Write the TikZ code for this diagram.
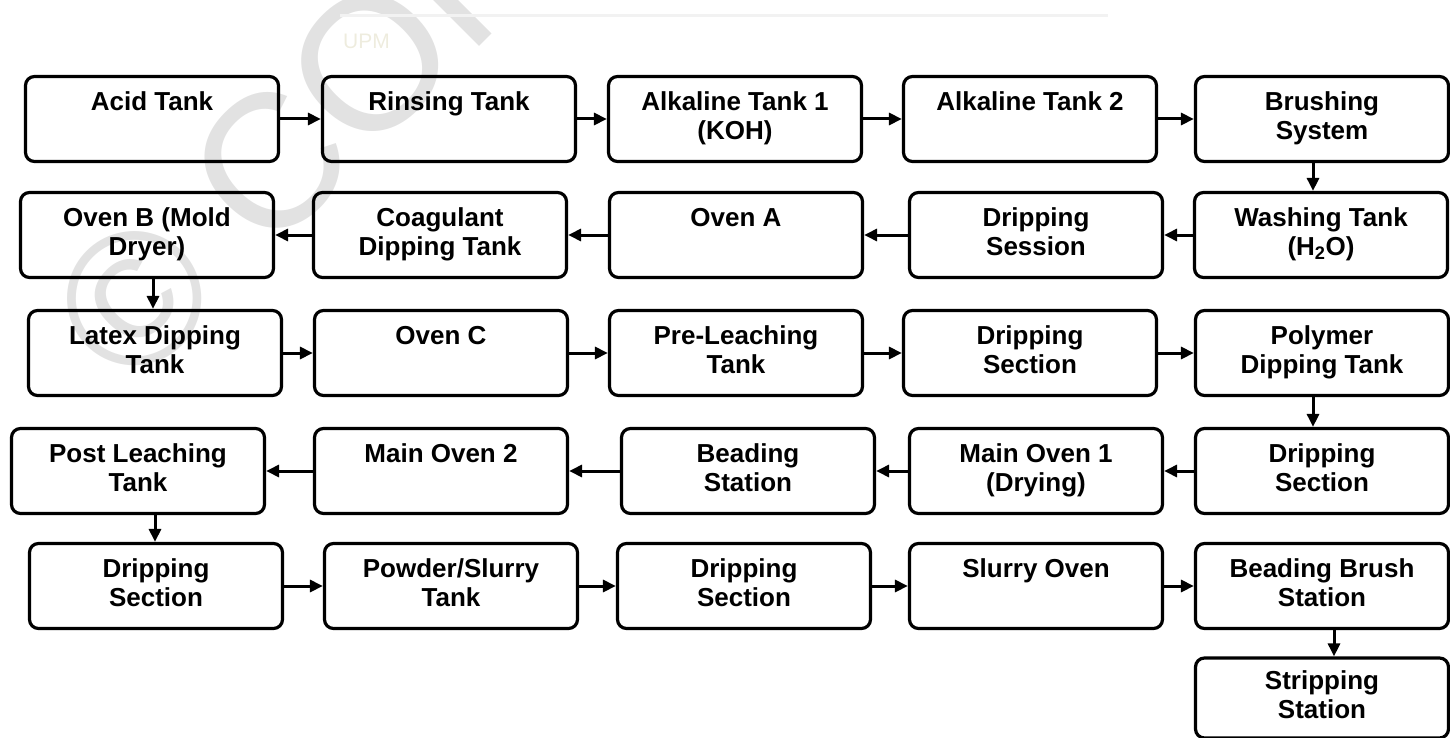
\documentclass[tikz,border=0pt]{standalone}
\usepackage{fontspec}
\setmainfont{Liberation Sans}
\usepackage{tikz}
\usetikzlibrary{arrows.meta, positioning, calc}
\definecolor{wmgray}{RGB}{226,226,226}
\definecolor{upmtint}{RGB}{238,236,222}
\definecolor{rulegray}{RGB}{242,242,242}
\newcommand{\stagelines}[2]{\strut #1\\\strut #2}
\tikzset{
  stage/.style={rectangle, draw=black, minimum width=253pt,
    minimum height=85pt, align=center, inner sep=0pt,
    font=\fontsize{26}{29}\selectfont\bfseries,
    rounded corners=9pt, line width=3.2pt},
  flow/.style={-{Triangle[length=13pt,width=12pt]}, line width=3pt, color=black}
}

\begin{document}
\begin{tikzpicture}[x=1pt, y=-1pt]
  \useasboundingbox (0,0) rectangle (1450,738);

  % Watermark
  \begin{scope}
    \clip (0,0) rectangle (1450,738);
    \node[anchor=base west, rotate=45, inner sep=0pt, color=wmgray,
      font=\fontsize{190}{200}\selectfont] (wm) at (131,395) {\char"00A9\ COPYRIGHT};
  \end{scope}
  \draw[color=rulegray, line width=3pt] (340,16) -- (1108,16);
  \node[color=upmtint, font=\fontsize{21}{21}\selectfont, anchor=west, inner sep=0pt] (upm) at (343,41) {UPM};

  % Row 1
  \node[stage] (acid)  at (152,119)  {\stagelines{Acid Tank}{}};
  \node[stage] (rinse) at (449,119)  {\stagelines{Rinsing Tank}{}};
  \node[stage] (alka)  at (735,119)  {\stagelines{Alkaline Tank 1}{(KOH)}};
  \node[stage] (alkb)  at (1030,119) {\stagelines{Alkaline Tank 2}{}};
  \node[stage] (brush) at (1322,119) {\stagelines{Brushing}{System}};

  % Row 2
  \node[stage] (ovenb) at (147,235)  {\stagelines{Oven B (Mold}{Dryer)}};
  \node[stage] (coag)  at (440,235)  {\stagelines{Coagulant}{Dipping Tank}};
  \node[stage] (ovena) at (736,235)  {\stagelines{Oven A}{}};
  \node[stage] (drips) at (1036,235) {\stagelines{Dripping}{Session}};
  \node[stage] (wash)  at (1321,235) {\stagelines{Washing Tank}{(H\textsubscript{2}O)}};

  % Row 3
  \node[stage] (latex) at (155,353)  {\stagelines{Latex Dipping}{Tank}};
  \node[stage] (ovenc) at (441,353)  {\stagelines{Oven C}{}};
  \node[stage] (prel)  at (736,353)  {\stagelines{Pre-Leaching}{Tank}};
  \node[stage] (dripc) at (1030,353) {\stagelines{Dripping}{Section}};
  \node[stage] (poly)  at (1322,353) {\stagelines{Polymer}{Dipping Tank}};

  % Row 4
  \node[stage] (postl) at (138,471)  {\stagelines{Post Leaching}{Tank}};
  \node[stage] (mainb) at (441,471)  {\stagelines{Main Oven 2}{}};
  \node[stage] (bead)  at (748,471)  {\stagelines{Beading}{Station}};
  \node[stage] (maina) at (1036,471) {\stagelines{Main Oven 1}{(Drying)}};
  \node[stage] (dripd) at (1322,471) {\stagelines{Dripping}{Section}};

  % Row 5
  \node[stage] (dripe) at (156,586)  {\stagelines{Dripping}{Section}};
  \node[stage] (powd)  at (451,586)  {\stagelines{Powder/Slurry}{Tank}};
  \node[stage] (dripf) at (744,586)  {\stagelines{Dripping}{Section}};
  \node[stage] (slurry) at (1036,586) {\stagelines{Slurry Oven}{}};
  \node[stage] (bbrush) at (1322,586) {\stagelines{Beading Brush}{Station}};

  % Row 6
  \node[stage, minimum height=80pt] (strip) at (1322,698) {\stagelines{Stripping}{Station}};

  % Flow, row 1
  \draw[flow] (acid) -- (rinse);
  \draw[flow] (rinse) -- (alka);
  \draw[flow] (alka) -- (alkb);
  \draw[flow] (alkb) -- (brush);
  \draw[flow] ([xshift=-9pt]brush.south) -- ([xshift=-8pt]wash.north);

  % Flow, row 2
  \draw[flow] (wash) -- (drips);
  \draw[flow] (drips) -- (ovena);
  \draw[flow] (ovena) -- (coag);
  \draw[flow] (coag) -- (ovenb);
  \draw[flow] ([xshift=6pt]ovenb.south) -- ([xshift=-2pt]latex.north);

  % Flow, row 3
  \draw[flow] (latex) -- (ovenc);
  \draw[flow] (ovenc) -- (prel);
  \draw[flow] (prel) -- (dripc);
  \draw[flow] (dripc) -- (poly);
  \draw[flow] ([xshift=-9pt]poly.south) -- ([xshift=-9pt]dripd.north);

  % Flow, row 4
  \draw[flow] (dripd) -- (maina);
  \draw[flow] (maina) -- (bead);
  \draw[flow] (bead) -- (mainb);
  \draw[flow] (mainb) -- (postl);
  \draw[flow] ([xshift=17pt]postl.south) -- ([xshift=-1pt]dripe.north);

  % Flow, row 5
  \draw[flow] (dripe) -- (powd);
  \draw[flow] (powd) -- (dripf);
  \draw[flow] (dripf) -- (slurry);
  \draw[flow] (slurry) -- (bbrush);
  \draw[flow] ([xshift=12pt]bbrush.south) -- ([xshift=12pt]strip.north);
\end{tikzpicture}
\end{document}
